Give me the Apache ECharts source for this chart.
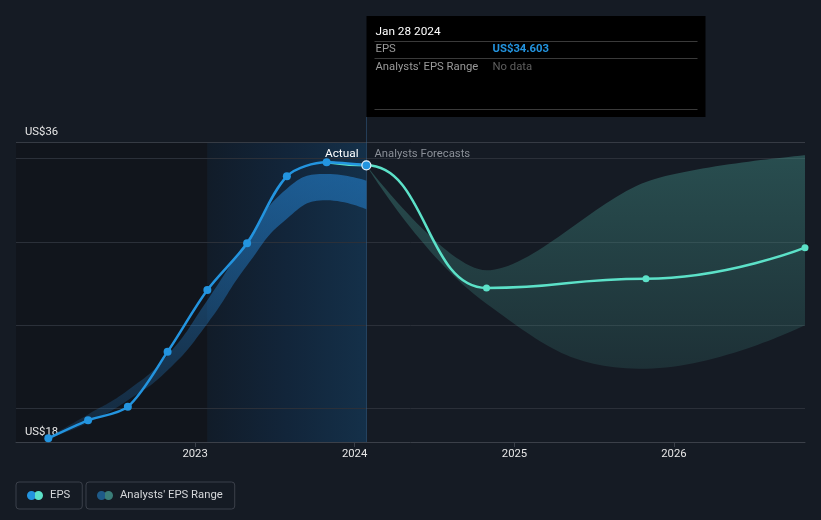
<!DOCTYPE html>
<html>
<head>
<meta charset="utf-8">
<script src="https://cdn.jsdelivr.net/npm/echarts@6/dist/echarts.min.js"></script>
<style>
html,body{margin:0;padding:0;background:#151b24;}
#chart{width:821px;height:520px;}
</style>
</head>
<body>
<div id="chart"></div>
<script>
// ---- data ----
const pastDates = ['2022-01-30','2022-05-01','2022-07-31','2022-10-30','2023-01-29','2023-04-30','2023-07-30','2023-10-29','2024-01-28'];
const pastEps = [18.22, 19.30, 20.12, 23.42, 27.12, 29.92, 33.94, 34.78, 34.603];
const pastRangeLow = [18.2, 19.15, 20.5, 22.3, 25.1, 28.6, 31.4, 32.5, 31.96];
const pastRangeHigh = [18.3, 19.65, 21.1, 23.2, 26.5, 30.1, 33.2, 34.08, 33.68];

const fcDates = ['2024-01-28','2024-10-29','2025-10-29','2026-10-28'];
const fcEps = [34.603, 27.24, 27.8, 29.66];
const fcRangeLow = [34.603, 26.3, 22.4, 25.0];
const fcRangeHigh = [34.603, 28.3, 33.6, 35.2];

const xMin = '2021-11-17';
const xMax = '2026-10-28';
const yMin = 18, yMax = 36;
const xTickLabels = ['2023','2024','2025','2026'];
const yTickLabels = ['US$18','US$36'];
const lastYearStart = '2023-01-29';
const hoverDate = 'Jan 28 2024';
const hoverEps = 'US$34.603';

// ---- helpers ----
const ts = s => Date.parse(s + 'T00:00:00Z');
const pair = (d, v) => d.map((x, i) => [ts(x), v[i]]);
const diff = (d, hi, lo) => d.map((x, i) => [ts(x), +(hi[i] - lo[i]).toFixed(4)]);
const xTickValues = xTickLabels.map(y => ts(y + '-01-01'));
const splitDate = ts(fcDates[0]);

const blue = '#2394df';
const teal = '#5ce1c8';
const FS = 11.3;

// split line colors: index i => value yMin + i
const splitColors = [];
for (let v = yMin; v <= yMax; v++) {
  splitColors.push(v === yMax ? '#363b44' : (v % 5 === 0 ? '#2b3039' : 'rgba(0,0,0,0)'));
}

const chart = echarts.init(document.getElementById('chart'), null, {renderer: 'canvas'});

const iconPath = 'path://M4.5,0A4.5,4.5,0,1,1,4.5,9A4.5,4.5,0,1,1,4.5,0ZM11.5,0A4.5,4.5,0,1,1,11.5,9A4.5,4.5,0,1,1,11.5,0Z';
const twoTone = (a, b) => ({type: 'linear', x: 0, y: 0, x2: 1, y2: 0,
  colorStops: [{offset: 0, color: a}, {offset: 0.52, color: a}, {offset: 0.52, color: b}, {offset: 1, color: b}]});

const legendBase = {
  top: 482, orient: 'horizontal',
  padding: [7, 12, 7, 11], borderColor: '#3b404a', borderWidth: 1, borderRadius: 3,
  itemWidth: 16, itemHeight: 9, itemGap: 6, icon: iconPath,
  textStyle: {color: '#d5d7da', fontSize: FS, lineHeight: 13, padding: [0, 0, 0, 2]},
  selectedMode: false
};

// forecast line continues the actual curve: previous actual point leads in (hidden by visualMap)
const fcLineData = [[ts(pastDates[pastDates.length - 2]), pastEps[pastEps.length - 2]]]
  .concat(pair(fcDates, fcEps))
  .map((p, i) => i <= 1 ? {value: p, symbol: 'none'} : p);

const option = {
  backgroundColor: '#151b24',
  animation: false,
  textStyle: {fontFamily: 'Roboto'},
  grid: {left: 16, right: 16, top: 142, bottom: 78, containLabel: false},
  xAxis: [
    {
      type: 'time',
      min: ts(xMin),
      max: ts(xMax),
      axisLine: {show: true, lineStyle: {color: '#3b4049', width: 1}},
      axisTick: {show: false},
      axisLabel: {show: false},
      splitLine: {show: false}
    },
    {
      type: 'value', position: 'bottom', offset: 0,
      min: ts(xMin),
      max: ts(xMax),
      axisLine: {show: false},
      axisTick: {show: true, length: 5, lineStyle: {color: '#3b4049'}, customValues: xTickValues},
      axisLabel: {color: '#e6e6e6', fontSize: FS, margin: 7, customValues: xTickValues,
        formatter: v => String(new Date(v).getUTCFullYear())},
      splitLine: {show: false}
    }
  ],
  yAxis: {
    type: 'value',
    min: yMin, max: yMax, interval: 1,
    axisLine: {show: false},
    axisTick: {show: false},
    axisLabel: {
      inside: true, margin: 9, color: '#e6e6e6', fontSize: FS,
      showMinLabel: true, showMaxLabel: true, hideOverlap: false,
      verticalAlign: 'bottom', padding: [0, 0, 4, 0],
      formatter: v => (v === yMin ? yTickLabels[0] : (v === yMax ? yTickLabels[1] : ''))
    },
    splitLine: {show: true, lineStyle: {color: splitColors, width: 1}}
  },
  legend: [
    Object.assign({}, legendBase, {left: 16, data: [{name: 'EPS', itemStyle: {color: twoTone(blue, teal)}}]}),
    Object.assign({}, legendBase, {left: 86, data: [{name: "Analysts' EPS Range", itemStyle: {color: twoTone('#1e5a88', '#3a7d78')}}]})
  ],
  visualMap: {
    type: 'piecewise', show: false, seriesIndex: 5, dimension: 0,
    pieces: [
      {lt: splitDate, color: 'rgba(92,225,200,0)'},
      {gte: splitDate, lte: ts(xMax) + 864e5 * 400, color: teal},
      {gt: ts(xMax) + 864e5 * 400, color: teal}
    ]
  },
  series: [
    {
      name: 'bg', type: 'line', data: [], z: -1, silent: true,
      markArea: {
        silent: true, z: -1,
        data: [
          [{xAxis: ts(xMin), itemStyle: {color: '#11151c'}}, {xAxis: ts(lastYearStart)}],
          [{xAxis: ts(lastYearStart), itemStyle: {color: {type: 'linear', x: 0, y: 0, x2: 1, y2: 0,
            colorStops: [{offset: 0, color: '#111c29'}, {offset: 0.5, color: '#12253a'}, {offset: 1, color: '#143049'}]}}}, {xAxis: splitDate}]
        ]
      }
    },
    {
      name: 'pastBase', type: 'line', stack: 'past', data: pair(pastDates, pastRangeLow),
      smooth: 0.5, symbol: 'none', lineStyle: {width: 0, opacity: 0}, z: 2, silent: true
    },
    {
      name: "Analysts' EPS Range", type: 'line', stack: 'past', data: diff(pastDates, pastRangeHigh, pastRangeLow),
      smooth: 0.5, symbol: 'none', lineStyle: {width: 0, opacity: 0}, z: 2, silent: true,
      itemStyle: {color: '#1e5a88'},
      areaStyle: {opacity: 1, color: {type: 'linear', x: 0, y: 0, x2: 0, y2: 1,
        colorStops: [{offset: 0, color: 'rgba(35,125,200,0.62)'}, {offset: 1, color: 'rgba(35,125,200,0.18)'}]}}
    },
    {
      name: 'fcBase', type: 'line', stack: 'fc', data: pair(fcDates, fcRangeLow),
      smooth: 0.45, symbol: 'none', lineStyle: {width: 0, opacity: 0}, z: 2, silent: true
    },
    {
      name: "Analysts' EPS Range", type: 'line', stack: 'fc', data: diff(fcDates, fcRangeHigh, fcRangeLow),
      smooth: 0.3, symbol: 'none', lineStyle: {width: 0, opacity: 0}, z: 2, silent: true,
      itemStyle: {color: '#3a7d78'},
      areaStyle: {opacity: 1, color: {type: 'linear', x: 0, y: 0, x2: 0, y2: 1,
        colorStops: [{offset: 0, color: 'rgba(72,160,150,0.38)'}, {offset: 1, color: 'rgba(72,160,150,0.16)'}]}}
    },
    {
      name: 'EPS', type: 'line', data: fcLineData,
      smooth: 0.5, smoothMonotone: 'x', symbol: 'circle', symbolSize: 7, showSymbol: true,
      lineStyle: {color: teal, width: 2.5}, itemStyle: {color: teal}, z: 4
    },
    {
      name: 'EPS', type: 'line',
      data: pair(pastDates, pastEps).map((p, i) => i === pastDates.length - 1 ?
        {value: p, symbolSize: 9, itemStyle: {color: blue, borderColor: '#e8f4ff', borderWidth: 1.2}} : p),
      smooth: 0.3, symbol: 'circle', symbolSize: 8, showSymbol: true,
      lineStyle: {color: blue, width: 2.5}, itemStyle: {color: blue}, z: 5
    }
  ]
};

chart.setOption(option);

// overlay: hover line, tooltip box, Actual / Forecast labels positioned through the axes
const epsSeriesIndex = option.series.length - 1;
const pTop = chart.convertToPixel({seriesIndex: epsSeriesIndex}, [splitDate, yMax]);
const pBottom = chart.convertToPixel({seriesIndex: epsSeriesIndex}, [splitDate, yMin]);
const hx = Math.round(pTop[0]) + 0.5;
const tipLeft = hx, tipTop = 16, tipW = 339, tipH = 101;
const labelY = pTop[1] + 12;
const txt = (x, y, text, fill, extra) => Object.assign({type: 'text', silent: true, z: 11, x: x, y: y,
  style: Object.assign({text: text, fill: fill, fontSize: FS, fontFamily: 'Roboto', verticalAlign: 'middle'}, extra || {})});
const hline = (y) => ({type: 'line', silent: true, z: 11,
  shape: {x1: tipLeft + 8, y1: y, x2: tipLeft + tipW - 8, y2: y}, style: {stroke: '#3a3a3a', lineWidth: 1}});

chart.setOption({
  graphic: [
    {type: 'line', silent: true, z: 1, shape: {x1: hx, y1: tipTop + tipH, x2: hx, y2: pBottom[1]},
      style: {stroke: 'rgba(55,105,150,0.45)', lineWidth: 1}},
    {type: 'rect', silent: true, z: 10, shape: {x: tipLeft, y: tipTop, width: tipW, height: tipH},
      style: {fill: '#000000'}},
    txt(tipLeft + 9, tipTop + 16, hoverDate, '#ffffff', {fontSize: 11.8}),
    hline(tipTop + 25.5),
    txt(tipLeft + 9, tipTop + 33, 'EPS', '#9a9a9a'),
    txt(tipLeft + 126, tipTop + 33, hoverEps, blue, {fontWeight: 'bold'}),
    hline(tipTop + 42.5),
    txt(tipLeft + 9, tipTop + 51, "Analysts' EPS Range", '#9a9a9a'),
    txt(tipLeft + 126, tipTop + 51, 'No data', '#5f5f5f'),
    hline(tipTop + 93.5),
    Object.assign(txt(hx - 8, labelY, 'Actual', '#ffffff', {align: 'right', fontSize: 11.8}), {z: 6}),
    Object.assign(txt(hx + 8, labelY, 'Analysts Forecasts', '#8b9098', {align: 'left'}), {z: 6})
  ]
});
</script>
</body>
</html>
